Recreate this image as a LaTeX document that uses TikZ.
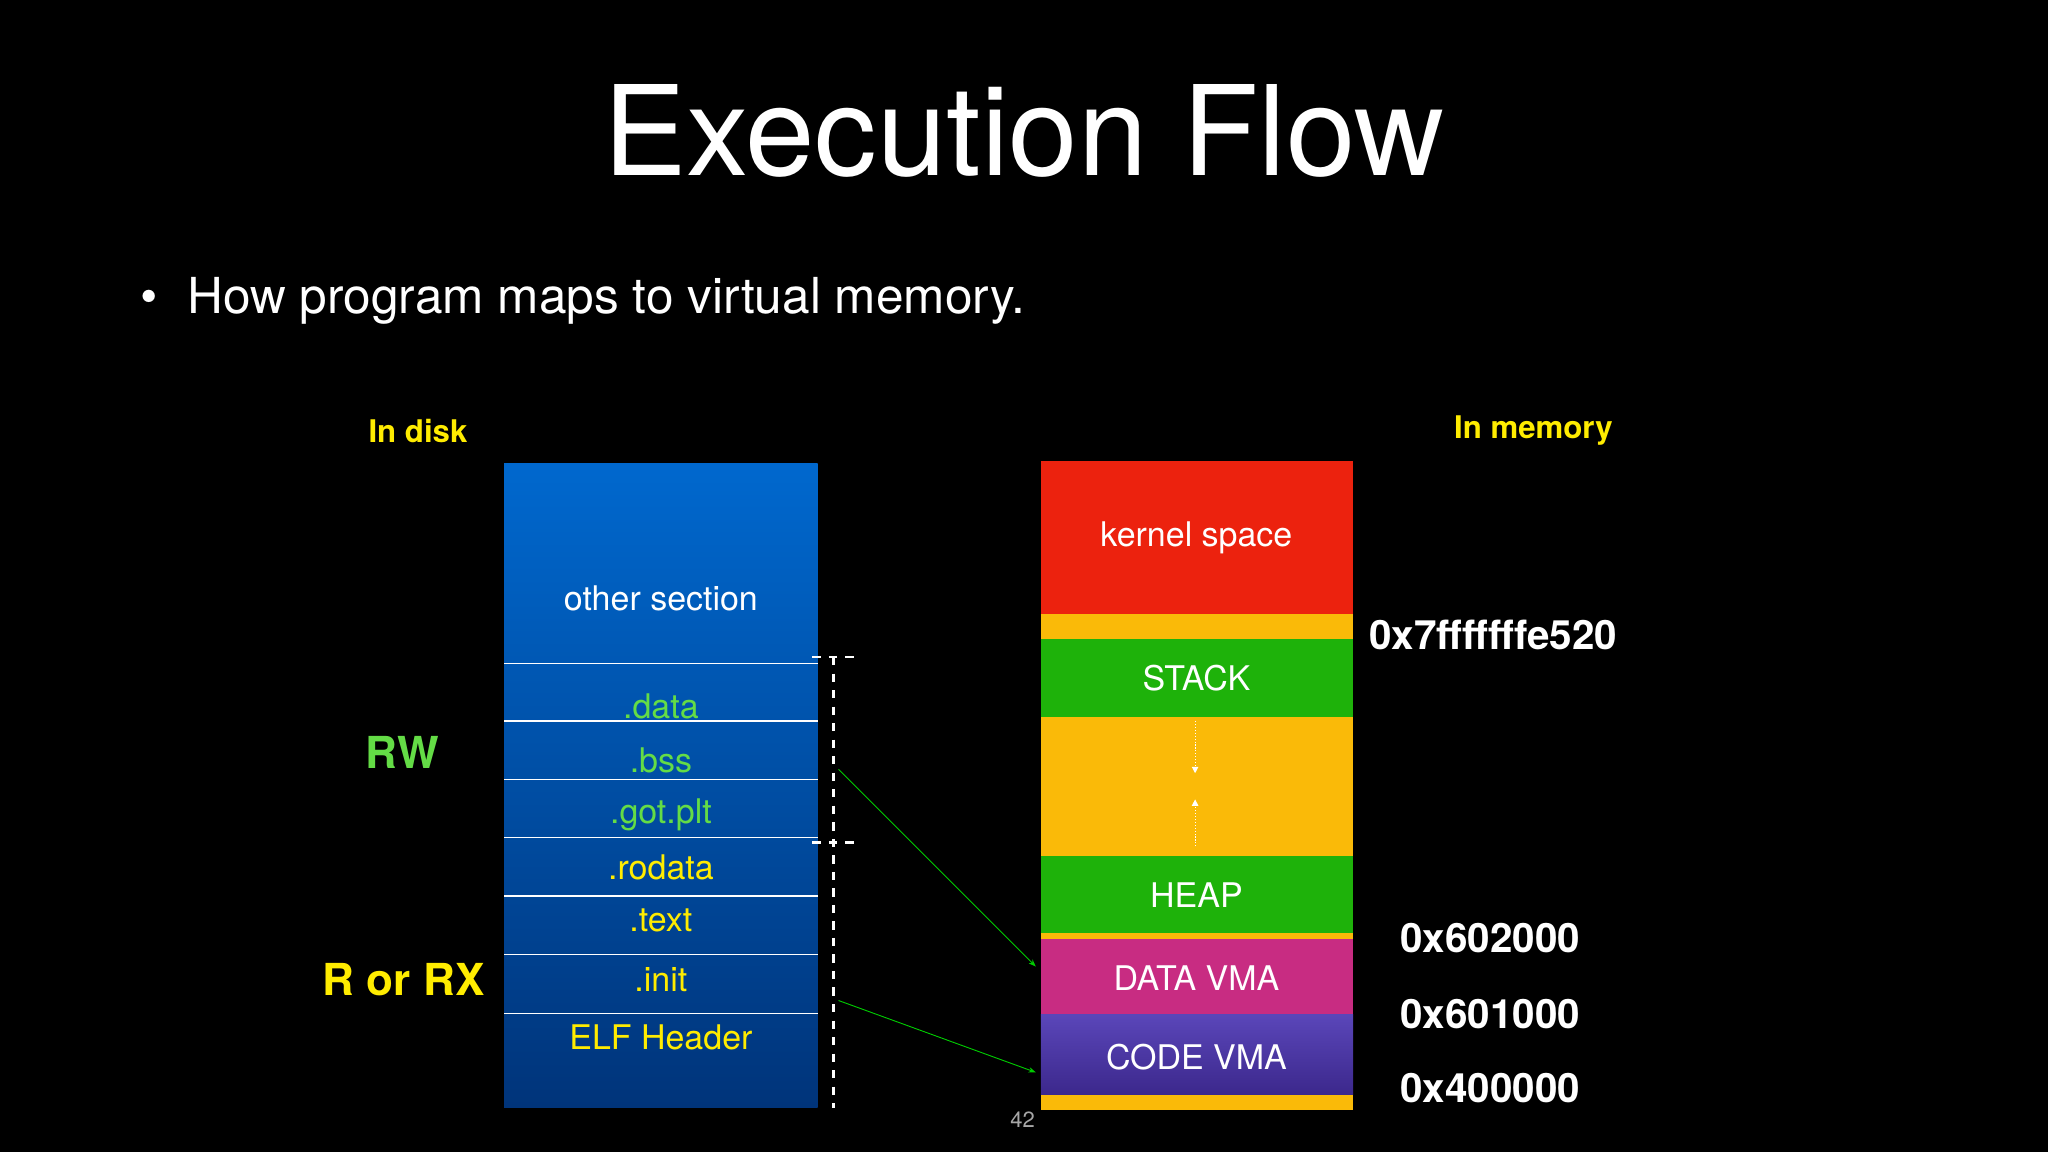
\documentclass[tikz,border=0pt]{standalone}
\usepackage{fontspec}
\setmainfont{TeX Gyre Heros}
\usetikzlibrary{arrows.meta}
\definecolor{ylw}{RGB}{255,236,0}
\definecolor{grn}{RGB}{100,220,70}
\definecolor{kred}{RGB}{236,34,14}
\definecolor{korg}{RGB}{250,186,8}
\definecolor{kgrn}{RGB}{30,178,10}
\definecolor{kmag}{RGB}{200,44,130}
\definecolor{kpur}{RGB}{80,60,170}
\begin{document}
\begin{tikzpicture}[x=0.05cm,y=-0.05cm,
  sec/.style={font=\fontsize{37}{40}\selectfont},
  mem/.style={font=\fontsize{37}{40}\selectfont,text=white},
  addr/.style={font=\bfseries\fontsize{44}{48}\selectfont,text=white},
  hdr/.style={font=\bfseries\fontsize{34}{38}\selectfont,text=ylw},
  sep/.style={white,line width=1.5pt},
  wdash/.style={white,line width=3pt,dash pattern=on 9pt off 9pt}]
\fill[black] (0,0) rectangle (1568,882);
\useasboundingbox (0,0) rectangle (1568,882);
\node[text=white,font=\fontsize{136}{140}\selectfont] (title) at (784,100) {Execution Flow};
\node[text=white,font=\fontsize{54}{58}\selectfont,anchor=west] (bul) at (105,230) {\textbullet\hspace{0.6em}How program maps to virtual memory.};
\node[hdr] (ind) at (320,330) {In disk};
\node[hdr] (inm) at (1174,330) {In memory};
% disk column
\shade[top color={rgb,255:red,0;green,104;blue,206},bottom color={rgb,255:red,0;green,52;blue,122}] (386,355) rectangle (626,848);
\foreach \y in {508,552,597,641,686,731,776} \draw[sep] (386,\y) -- (626,\y);
\node[sec,text=white] (oth) at (506,458) {other section};
\node[sec,text=grn] (data) at (506,541) {.data};
\node[sec,text=grn] (bss) at (506,582) {.bss};
\node[sec,text=grn] (got) at (506,624) {.got.plt};
\node[sec,text=ylw] (rod) at (506,664) {.rodata};
\node[sec,text=ylw] (txt) at (506,705) {.text};
\node[sec,text=ylw] (init) at (506,750) {.init};
\node[sec,text=ylw] (elf) at (506,794) {ELF Header};
\node[text=grn,font=\bfseries\fontsize{48}{52}\selectfont] (rw) at (308,576) {RW};
\node[text=ylw,font=\bfseries\fontsize{48}{52}\selectfont] (rx) at (309,750) {R or RX};
\draw[wdash] (638,503) -- (638,848);
\draw[wdash] (622,503) -- (656,503);
\draw[wdash] (622,645) -- (656,645);
% memory column
\fill[kred] (797,353) rectangle (1036,470);
\fill[korg] (797,470) rectangle (1036,489);
\fill[kgrn] (797,489) rectangle (1036,549);
\fill[korg] (797,549) rectangle (1036,655);
\fill[kgrn] (797,655) rectangle (1036,714);
\fill[korg] (797,714) rectangle (1036,719);
\fill[kmag] (797,719) rectangle (1036,777);
\shade[top color={rgb,255:red,90;green,70;blue,185},bottom color={rgb,255:red,60;green,40;blue,140}] (797,777) rectangle (1036,838);
\fill[korg] (797,838) rectangle (1036,850);
\node[mem] (kern) at (916,412) {kernel space};
\node[mem] (stack) at (916,519) {STACK};
\node[mem] (heap) at (916,685) {HEAP};
\node[mem] (dvma) at (916,749) {DATA VMA};
\node[mem] (cvma) at (916,809) {CODE VMA};
\coordinate (s1) at (915,552); \coordinate (s2) at (915,592);
\coordinate (h1) at (915,648); \coordinate (h2) at (915,612);
\draw[white,dotted,line width=1.2pt,-{Triangle[length=7pt,width=7pt]}] (s1) -- (s2);
\draw[white,dotted,line width=1.2pt,-{Triangle[length=7pt,width=7pt]}] (h1) -- (h2);
\node[addr,anchor=west] (a1) at (1046,486) {0x7fffffffe520};
\node[addr] (a2) at (1141,718) {0x602000};
\node[addr] (a3) at (1141,776) {0x601000};
\node[addr] (a4) at (1141,833) {0x400000};
\coordinate (g1) at (642,589); \coordinate (g2) at (793,740);
\coordinate (g3) at (642,766); \coordinate (g4) at (793,821);
\draw[green!80!black,line width=1pt,-{Stealth[length=8pt]}] (g1) -- (g2);
\draw[green!80!black,line width=1pt,-{Stealth[length=8pt]}] (g3) -- (g4);
\node[text=gray!70,font=\fontsize{24}{26}\selectfont] (pg) at (783,857) {42};
\end{tikzpicture}
\end{document}
